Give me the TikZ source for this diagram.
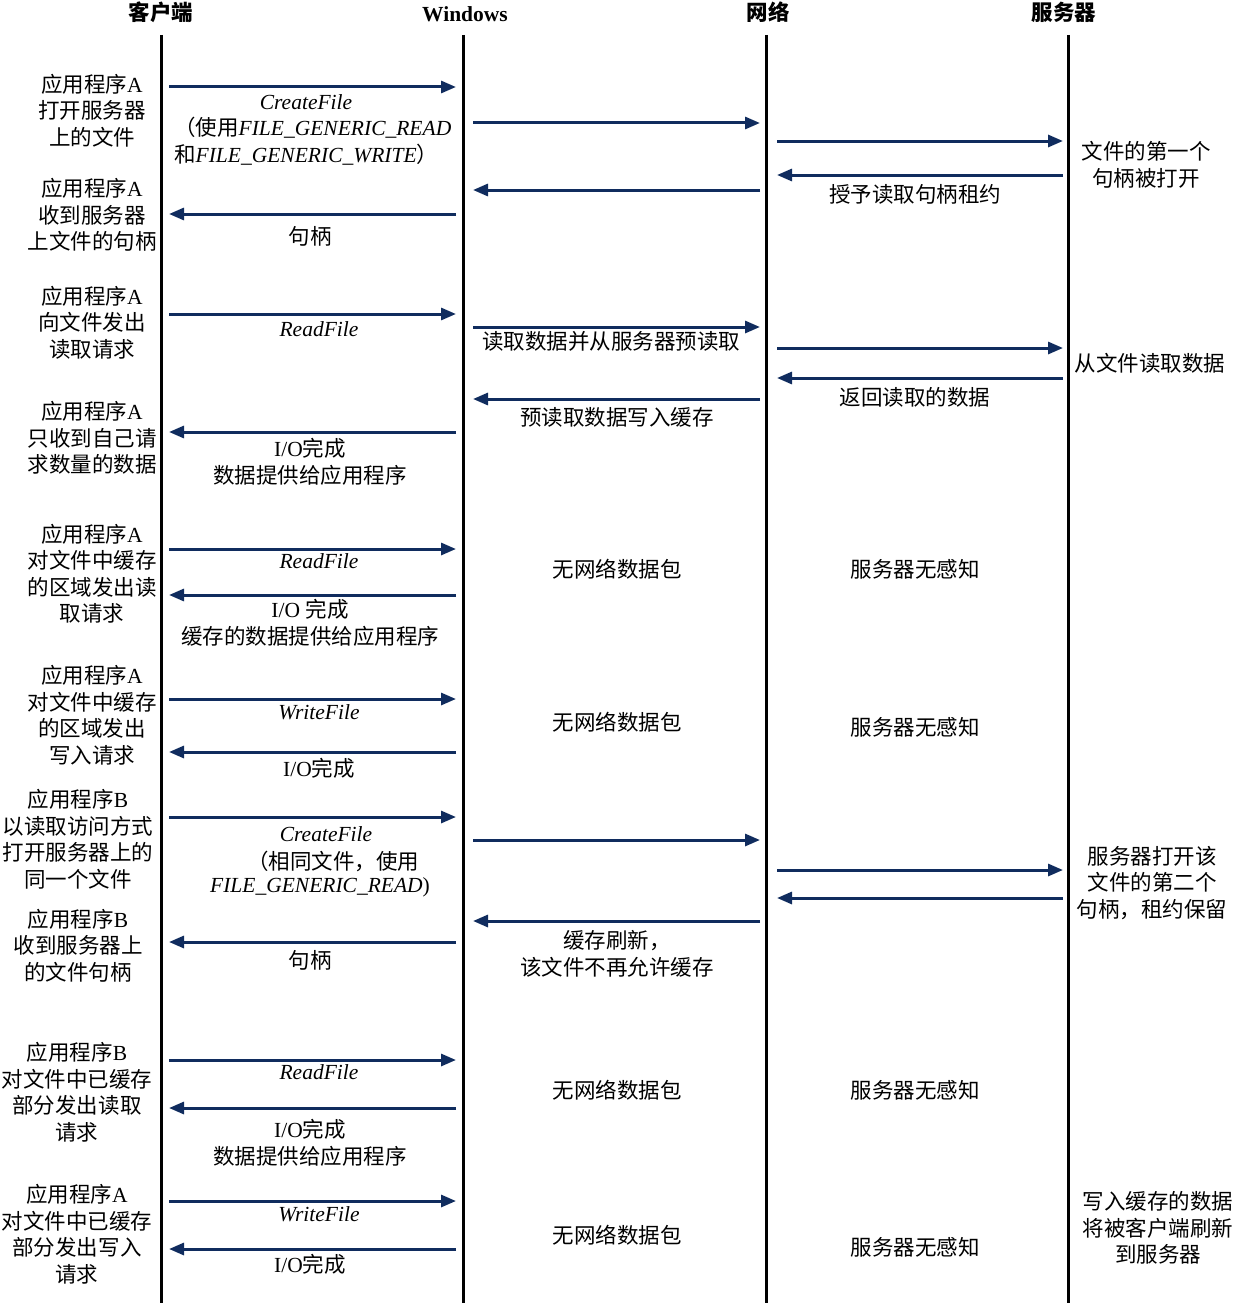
\documentclass[tikz,border=0pt]{standalone}
\usepackage{fontspec}
\setmainfont{Liberation Serif}
\newfontfamily\cjk{Noto Sans CJK SC}
\newcommand\zw[1]{{\cjk #1}}
\usetikzlibrary{arrows.meta}
\definecolor{arrowblue}{RGB}{16,44,94}
\begin{document}
\begin{tikzpicture}[x=1pt,y=-1pt,
  msg/.style={draw=arrowblue,line width=3pt,-{Triangle[length=15pt,width=12pt]}},
  life/.style={draw=black,line width=3pt},
  txt/.style={inner sep=0pt,align=center,font=\fontsize{21.5pt}{26.5pt}\selectfont},
  hdr/.style={inner sep=0pt,font=\fontsize{21.5pt}{26.5pt}\selectfont\bfseries}]
\useasboundingbox (0,0) rectangle (1236,1303);
% headers
\node[hdr] (h1) at (161,12) {\zw{客户端}};
\node[hdr] (h2) at (465,14) {Windows};
\node[hdr] (h3) at (768,12) {\zw{网络}};
\node[hdr] (h4) at (1064,12) {\zw{服务器}};
% lifelines
\coordinate (l1t) at (161,35); \coordinate (l1b) at (161,1303);
\coordinate (l2t) at (463,35); \coordinate (l2b) at (463,1303);
\coordinate (l3t) at (766,35); \coordinate (l3b) at (766,1303);
\coordinate (l4t) at (1068,35); \coordinate (l4b) at (1068,1303);
\draw[life] (l1t) -- (l1b);
\draw[life] (l2t) -- (l2b);
\draw[life] (l3t) -- (l3b);
\draw[life] (l4t) -- (l4b);
% client texts
\node[txt] (c1) at (92,110.5) {\zw{应用程序}A\\\zw{打开服务器}\\\zw{上的文件}};
\node[txt] (c2) at (92,215) {\zw{应用程序}A\\\zw{收到服务器}\\\zw{上文件的句柄}};
\node[txt] (c3) at (92,322.5) {\zw{应用程序}A\\\zw{向文件发出}\\\zw{读取请求}};
\node[txt] (c4) at (92,438) {\zw{应用程序}A\\\zw{只收到自己请}\\\zw{求数量的数据}};
\node[txt] (c5) at (92,574) {\zw{应用程序}A\\\zw{对文件中缓存}\\\zw{的区域发出读}\\\zw{取请求}};
\node[txt] (c6) at (92,715.5) {\zw{应用程序}A\\\zw{对文件中缓存}\\\zw{的区域发出}\\\zw{写入请求}};
\node[txt] (c7) at (78,839.5) {\zw{应用程序}B\\\zw{以读取访问方式}\\\zw{打开服务器上的}\\\zw{同一个文件}};
\node[txt] (c8) at (78,945.5) {\zw{应用程序}B\\\zw{收到服务器上}\\\zw{的文件句柄}};
\node[txt] (c9) at (77,1092.5) {\zw{应用程序}B\\\zw{对文件中已缓存}\\\zw{部分发出读取}\\\zw{请求}};
\node[txt] (c10) at (77,1234) {\zw{应用程序}A\\\zw{对文件中已缓存}\\\zw{部分发出写入}\\\zw{请求}};
% row 1
\draw[msg] (169,87) -- (456,87);
\draw[msg] (473,123) -- (760,123);
\draw[msg] (777,141) -- (1063,141);
\draw[msg] (1063,175) -- (777,175);
\draw[msg] (760,190) -- (473,190);
\draw[msg] (456,214) -- (169,214);
\node[txt] (w1) at (306,102) {\itshape CreateFile};
\node[txt,anchor=west] (w1b) at (174,128) {\zw{（使用}\itshape FILE\_GENERIC\_READ};
\node[txt,anchor=west] (w1c) at (174,155) {\zw{和}{\itshape FILE\_GENERIC\_WRITE}\zw{）}};
\node[txt] (n1) at (915,194) {\zw{授予读取句柄租约}};
\node[txt] (s1) at (1146,165) {\zw{文件的第一个}\\\zw{句柄被打开}};
\node[txt] (w2) at (310,236) {\zw{句柄}};
% row 2
\draw[msg] (169,314) -- (456,314);
\draw[msg] (473,327) -- (760,327);
\draw[msg] (777,348) -- (1063,348);
\draw[msg] (1063,378) -- (777,378);
\draw[msg] (760,399) -- (473,399);
\draw[msg] (456,432) -- (169,432);
\node[txt] (w3) at (319,329) {\itshape ReadFile};
\node[txt] (n2) at (611,341) {\zw{读取数据并从服务器预读取}};
\node[txt] (s2) at (1150,363) {\zw{从文件读取数据}};
\node[txt] (n3) at (915,397) {\zw{返回读取的数据}};
\node[txt] (n4) at (617,417) {\zw{预读取数据写入缓存}};
\node[txt] (w4) at (310,462) {I/O\zw{完成}\\\zw{数据提供给应用程序}};
% row 3
\draw[msg] (169,549) -- (456,549);
\draw[msg] (456,595) -- (169,595);
\node[txt] (w5) at (319,561) {\itshape ReadFile};
\node[txt] (w6) at (310,623) {I/O \zw{完成}\\\zw{缓存的数据提供给应用程序}};
\node[txt] (n5) at (617,569) {\zw{无网络数据包}};
\node[txt] (s3) at (915,569) {\zw{服务器无感知}};
% row 4
\draw[msg] (169,699) -- (456,699);
\draw[msg] (456,752) -- (169,752);
\node[txt] (w7) at (319,712) {\itshape WriteFile};
\node[txt] (w8) at (319,768) {I/O\zw{完成}};
\node[txt] (n6) at (617,722) {\zw{无网络数据包}};
\node[txt] (s4) at (915,727) {\zw{服务器无感知}};
% row 5
\draw[msg] (169,817) -- (456,817);
\draw[msg] (473,840) -- (760,840);
\draw[msg] (777,870) -- (1063,870);
\draw[msg] (1063,898) -- (777,898);
\draw[msg] (760,921) -- (473,921);
\draw[msg] (456,942) -- (169,942);
\node[txt] (w9) at (326,834) {\itshape CreateFile};
\node[txt] (w9b) at (333,861) {\zw{（相同文件，使用}};
\node[txt] (w9c) at (320,887) {{\itshape FILE\_GENERIC\_READ})};
\node[txt] (n7) at (617,954) {\zw{缓存刷新，}\\\zw{该文件不再允许缓存}};
\node[txt] (w10) at (310,960) {\zw{句柄}};
\node[txt] (s5) at (1152,883) {\zw{服务器打开该}\\\zw{文件的第二个}\\\zw{句柄，租约保留}};
% row 6
\draw[msg] (169,1060) -- (456,1060);
\draw[msg] (456,1108) -- (169,1108);
\node[txt] (w11) at (319,1072) {\itshape ReadFile};
\node[txt] (w12) at (310,1143) {I/O\zw{完成}\\\zw{数据提供给应用程序}};
\node[txt] (n8) at (617,1090) {\zw{无网络数据包}};
\node[txt] (s6) at (915,1090) {\zw{服务器无感知}};
% row 7
\draw[msg] (169,1201) -- (456,1201);
\draw[msg] (456,1249) -- (169,1249);
\node[txt] (w13) at (319,1214) {\itshape WriteFile};
\node[txt] (w14) at (310,1264) {I/O\zw{完成}};
\node[txt] (n9) at (617,1235) {\zw{无网络数据包}};
\node[txt] (s7) at (915,1247) {\zw{服务器无感知}};
\node[txt] (s8) at (1158,1228) {\zw{写入缓存的数据}\\\zw{将被客户端刷新}\\\zw{到服务器}};
\end{tikzpicture}
\end{document}
